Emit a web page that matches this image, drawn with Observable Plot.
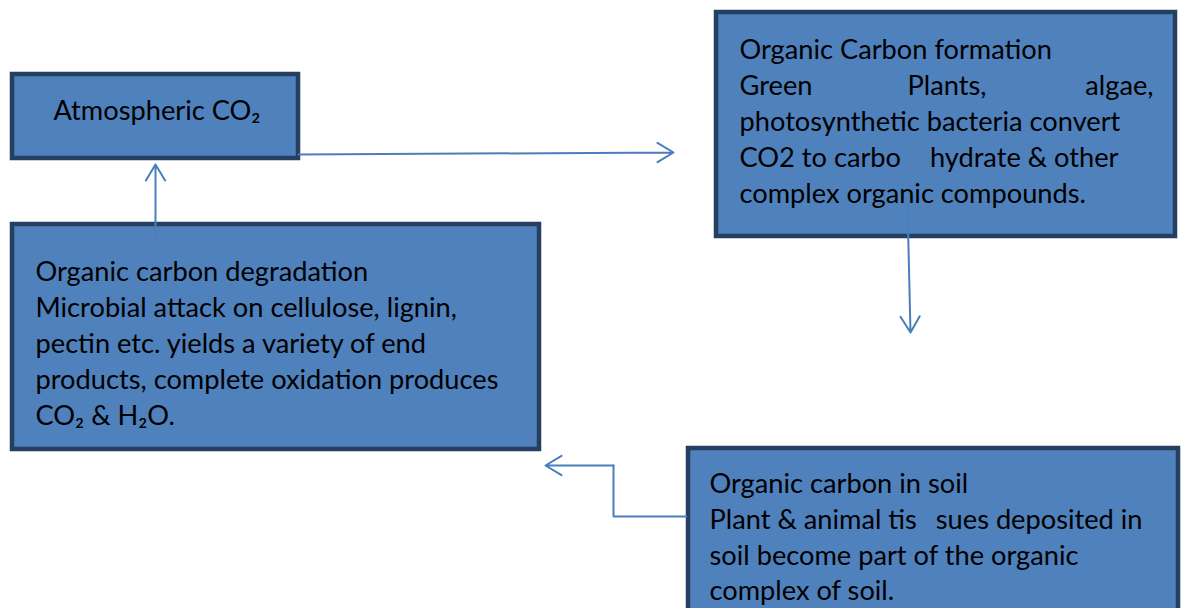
<!DOCTYPE html>
<html><head><meta charset="utf-8">
<script src="https://cdn.jsdelivr.net/npm/d3@7"></script>
<script src="https://cdn.jsdelivr.net/npm/@observablehq/plot@0.6"></script>
<style>html,body{margin:0;padding:0;overflow:hidden;background:#fff}</style>
</head><body><div id="chart"></div>
<script>
// Boxes of the diagram (diagram units, 1 unit = 1 px)
const boxNames  = ["Atmospheric CO₂", "Organic Carbon formation", "Organic carbon degradation", "Organic carbon in soil"];
const boxLeft   = [12, 716, 12, 688];
const boxRight  = [298, 1175, 539, 1178];
const boxTop    = [74, 12, 224, 448];
const boxBottom = [158, 236, 449, 614];

// Text lines inside the boxes
const lineTexts = [
  "Atmospheric CO₂",
  "Organic Carbon formation", "Green", "Plants,", "algae,",
  "photosynthetic bacteria convert", "CO2 to carbo", "hydrate & other",
  "complex organic compounds.",
  "Organic carbon degradation", "Microbial attack on cellulose, lignin,",
  "pectin etc. yields a variety of end", "products, complete oxidation produces",
  "CO₂ & H₂O.",
  "Organic carbon in soil", "Plant & animal tis", "sues deposited in",
  "soil become part of the organic", "complex of soil."
];
const lineX = [53, 739, 739, 907, 1153, 739, 739, 1118, 739, 35, 35, 35, 35, 35, 709, 709, 1142, 709, 709];
const lineY = [111, 50, 86, 86, 86, 122, 158, 158, 194, 272, 308, 344, 380, 416, 484, 520, 520, 556, 591];
const lineAnchor = ["start","start","start","start","end","start","start","end","start","start","start","start","start","start","start","start","end","start","start"];

// Arrows (start -> tip)
const arrowX1 = [155, 298, 907, 613];
const arrowY1 = [237, 154, 205, 465];
const arrowX2 = [155, 673, 910, 545];
const arrowY2 = [164, 152, 332, 465];

// Elbow connector leading into the last arrow
const elbowX = [686, 613, 613];
const elbowY = [516, 516, 465];

const boxes = boxNames.map((name, i) => ({name, x1: boxLeft[i], x2: boxRight[i], y1: boxTop[i], y2: boxBottom[i]}));
const lines = lineTexts.map((t, i) => ({t, x: lineX[i], y: lineY[i], a: lineAnchor[i]}));
const arrows = arrowX1.map((x1, i) => ({x1, y1: arrowY1[i], x2: arrowX2[i], y2: arrowY2[i]}));
const elbow = elbowX.map((x, i) => ({x, y: elbowY[i]}));

const FONT = "Lato";
const ctx = document.createElement("canvas").getContext("2d");
ctx.font = `100px ${FONT}`;
const fs = 100 * 463 / ctx.measureText("products, complete oxidation produces").width;

const stroke = "#4A7EBB";
const plot = Plot.plot({
  width: 1182, height: 608,
  margin: 0,
  x: {domain: [0, 1182], range: [0, 1182], axis: null},
  y: {domain: [0, 608], range: [0, 608], axis: null},
  style: {fontFamily: FONT, background: "white", overflow: "hidden"},
  marks: [
    Plot.rect(boxes, {x1: "x1", x2: "x2", y1: "y1", y2: "y2", fill: "#4F81BD", stroke: "#243F60", strokeWidth: 4.5, clip: true}),
    Plot.text(lines.filter(d => d.a === "start"), {x: "x", y: "y", text: "t", textAnchor: "start", fontSize: fs, fill: "black", fontFamily: FONT}),
    Plot.text(lines.filter(d => d.a === "end"), {x: "x", y: "y", text: "t", textAnchor: "end", fontSize: fs, fill: "black", fontFamily: FONT}),
    Plot.line(elbow, {x: "x", y: "y", stroke, strokeWidth: 2, strokeLinejoin: "miter"}),
    Plot.arrow(arrows, {x1: "x1", y1: "y1", x2: "x2", y2: "y2", stroke, strokeWidth: 2, headLength: 14, headAngle: 62})
  ]
});
document.getElementById("chart").append(plot);
</script></body></html>
